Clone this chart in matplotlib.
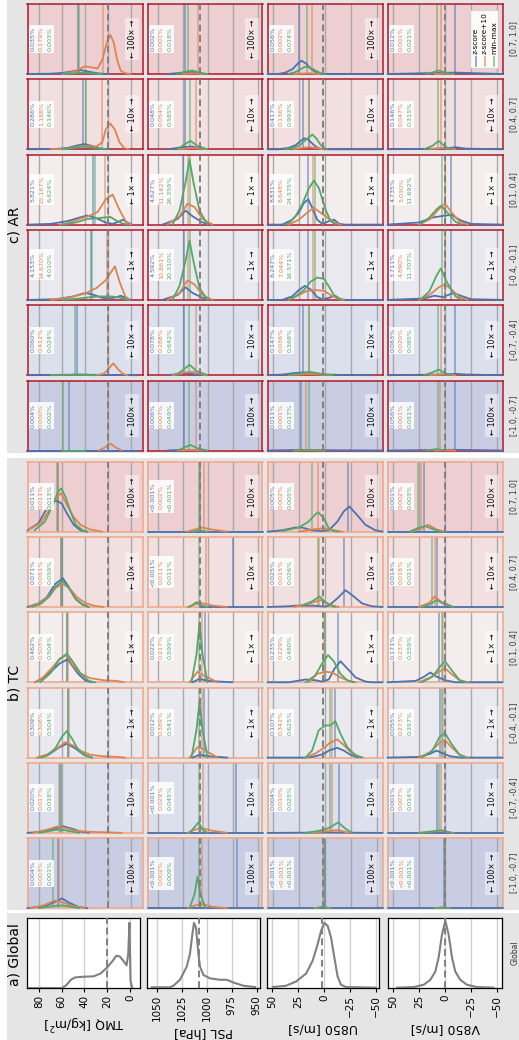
import matplotlib.pyplot as plt
from matplotlib.patches import Rectangle
from matplotlib.transforms import Bbox

W, H = 519, 1040
BLUE, ORANGE, GREEN = '#4c72b0', '#dd8452', '#55a868'
GREY_BG = '#e5e5e5'

BINS = ['[-1.0, -0.7]', '[-0.7, -0.4]', '[-0.4, -0.1]', '[0.1, 0.4]', '[0.4, 0.7]', '[0.7, 1.0]']
SCALES = ['100×', '10×', '1×', '1×', '10×', '100×']
BIN_COLORS = ['#c8cde3', '#dcdfec', '#e9e9ef', '#f4eded', '#f2dfe0', '#edcfd1']

VARS = ['TMQ', 'PSL', 'U850', 'V850']
XLABELS = ['TMQ [kg/m$^2$]', 'PSL [hPa]', 'U850 [m/s]', 'V850 [m/s]']
TICKS = [[80, 60, 40, 20, 0], [1050, 1025, 1000, 975, 950], [50, 25, 0, -25, -50], [50, 25, 0, -25, -50]]
XLIM = [(90, -10), (1060, 945), (55, -55), (55, -55)]
REF = [20, 1008, 1.8, 0]

# global distributions, (value, height) points
GLOBAL_TMQ = [(89, 0), (60, 0), (56, 0.04), (52, 0.12), (48, 0.155), (40, 0.165), (32, 0.17), (26, 0.21),
              (20, 0.30), (15, 0.40), (12, 0.47), (9, 0.46), (6, 0.40), (3, 0.33), (1.5, 0.5), (0.5, 0.95),
              (-0.5, 0.1), (-2, 0)]
GLOBAL_PSL = [(1055, 0.01), (1036.7, 0.01), (1033.3, 0.033), (1026.7, 0.12), (1020, 0.31), (1016.7, 0.5),
              (1014.3, 0.79), (1012.7, 0.95), (1010.7, 0.88), (1008.3, 0.5), (1006.7, 0.31), (1003.3, 0.19),
              (996.7, 0.14), (986.7, 0.12), (980, 0.12), (973.3, 0.08), (963.3, 0.033), (951.7, 0.014)]
GLOBAL_U850 = [(49.7, 0.014), (36.9, 0.033), (27.2, 0.095), (17.6, 0.21), (11.2, 0.4), (6.4, 0.64), (3.2, 0.83),
               (0, 0.95), (-3.2, 0.905), (-6.4, 0.74), (-9.6, 0.45), (-12.8, 0.167), (-16, 0.048),
               (-20.8, 0.014), (-49.7, 0.005)]
GLOBAL_V850 = [(46.5, 0.005), (30.4, 0.014), (20.8, 0.048), (14.4, 0.12), (9.6, 0.24), (6.4, 0.45), (3.2, 0.78),
               (0, 0.98), (-3.2, 0.78), (-6.4, 0.45), (-9.6, 0.24), (-14.4, 0.12), (-20.8, 0.048),
               (-30.4, 0.014), (-46.5, 0.005)]

# ---- TC, one curve per bin ([-1.0,-0.7] ... [0.7,1.0]) ----
TC_TMQ_Z = [
    [(90, 0), (75, 0.03), (66, 0.09), (60, 0.14), (54, 0.08), (46, 0.02), (38, 0)],
    [(90, 0), (76, 0.02), (67, 0.06), (59.2, 0.095), (51.3, 0.06), (44, 0.02), (36.7, 0)],
    [(80.6, 0), (71.8, 0.04), (63, 0.14), (55.7, 0.2), (48.4, 0.13), (41, 0.04), (33.7, 0)],
    [(83.5, 0), (76.6, 0.06), (67.8, 0.18), (61.9, 0.27), (54.9, 0.33), (51.7, 0.25), (45.9, 0.12), (40, 0.03), (34.2, 0)],
    [(90, 0), (80.6, 0.05), (73.2, 0.14), (65.9, 0.33), (59.2, 0.41), (54.2, 0.29), (48.4, 0.12), (42.5, 0.04), (36.7, 0)],
    [(90, 0.02), (80.6, 0.12), (73.2, 0.33), (68.8, 0.43), (64.5, 0.44), (60.1, 0.40), (55.7, 0.26), (49.9, 0.1), (44, 0.02), (38, 0)],
]
TC_TMQ_Z10 = [
    [(88, 0), (76, 0.04), (66, 0.11), (59, 0.08), (50, 0.03), (40, 0)],
    [(85, 0), (72, 0.05), (64.5, 0.09), (57, 0.07), (48, 0.03), (35, 0.015), (15, 0.005), (8, 0)],
    [(82, 0), (72, 0.05), (63, 0.15), (57, 0.22), (50, 0.17), (43, 0.09), (35, 0.04), (25, 0.02), (12, 0.01), (5, 0)],
    [(83.5, 0), (76.6, 0.07), (67.8, 0.22), (61.9, 0.34), (55.7, 0.39), (51.7, 0.27), (44.4, 0.13), (35.6, 0.06), (24, 0.03), (12.3, 0.02), (6.4, 0)],
    [(88, 0), (80, 0.05), (72, 0.15), (65, 0.28), (59.2, 0.33), (53, 0.26), (47, 0.14), (40, 0.06), (33, 0.02), (24, 0)],
    [(89, 0.03), (86.4, 0.05), (77.6, 0.14), (70.3, 0.33), (64.5, 0.5), (60.7, 0.55), (55.7, 0.38), (49.9, 0.21), (44, 0.1), (35.3, 0.03), (25, 0)],
]
TC_TMQ_MM = [
    [(80, 0), (68, 0.03), (60, 0.04), (52, 0.02), (45, 0)],
    [(80, 0), (70, 0.03), (62, 0.05), (55, 0.03), (45, 0)],
    [(78, 0), (74, 0.02), (65.9, 0.13), (60, 0.3), (55.7, 0.38), (51.3, 0.27), (45.5, 0.1), (38, 0.02), (33.7, 0)],
    [(79, 0), (70, 0.13), (62.6, 0.32), (55.7, 0.41), (49.9, 0.28), (44, 0.13), (36.7, 0.02), (30.9, 0)],
    [(86, 0), (78, 0.05), (71, 0.15), (65, 0.30), (59.2, 0.37), (54, 0.27), (48, 0.11), (42, 0.03), (37, 0)],
    [(84, 0.02), (75, 0.14), (68, 0.38), (63.5, 0.57), (60.7, 0.62), (57, 0.5), (52.6, 0.29), (48, 0.1), (42, 0.02), (38, 0)],
]
TC_PSL_Z = [
    [(1060, 0), (945, 0)],
    [(1060, 0), (945, 0)],
    [(1015, 0), (1008, 0.04), (1000, 0.02), (980, 0)],
    [(1015, 0), (1008, 0.05), (1000, 0.02), (975, 0)],
    [(1008, 0), (945, 0)],
    [(1060, 0), (945, 0)],
]
TC_PSL_Z10 = [
    [(1020, 0), (1012, 0.04), (1006, 0.06), (995, 0.02), (980, 0)],
    [(1020, 0), (1012, 0.05), (1006, 0.07), (995, 0.03), (980, 0)],
    [(1018, 0), (1010, 0.15), (1004, 0.12), (990, 0)],
    [(1018, 0), (1010, 0.15), (1004, 0.1), (990, 0)],
    [(1020, 0), (1012, 0.04), (1006, 0.057), (995, 0.02), (980, 0)],
    [(1021, 0), (1013, 0.03), (1006, 0.06), (995, 0.03), (980, 0)],
]
TC_PSL_MM = [
    [(1018, 0), (1013, 0.2), (1010, 0.45), (1007, 0.2), (1002, 0)],
    [(1018, 0), (1012, 0.1), (1009, 0.15), (1005, 0.05), (1000, 0)],
    [(1016, 0), (1011, 0.4), (1008, 0.8), (1005, 0.4), (1000, 0)],
    [(1016, 0), (1011, 0.4), (1008, 0.85), (1005, 0.4), (1000, 0)],
    [(1018, 0), (1011, 0.07), (1005, 0.02), (1000, 0)],
    [(1015, 0), (1008, 0.02), (1000, 0)],
]
TC_U850_Z = [
    [(55, 0), (-55, 0)],
    [(55, 0), (0, 0.005), (-55, 0)],
    [(55, 0), (20, 0), (12.4, 0.01), (1.3, 0.05), (-3.6, 0.1), (-11.6, 0.14), (-18, 0.1), (-24.4, 0.04), (-32, 0)],
    [(55, 0), (34.7, 0), (18.7, 0.04), (9.2, 0.03), (2.8, 0.01), (-3.6, 0.04), (-9.3, 0.2), (-14.8, 0.3), (-21.2, 0.2), (-29.2, 0.07), (-38.8, 0.01), (-45.1, 0), (-55, 0)],
    [(55, 0), (35, 0.01), (28, 0.02), (12, 0.02), (0, 0.005), (-3.6, 0.02), (-11.6, 0.12), (-19.6, 0.24), (-27.6, 0.15), (-35.5, 0.05), (-45, 0.01), (-55, 0)],
    [(55, 0), (41.1, 0.02), (28.3, 0.06), (22, 0.06), (12.4, 0.02), (2.8, 0.01), (-3.6, 0.02), (-11.6, 0.14), (-18, 0.29), (-23.3, 0.36), (-30.6, 0.24), (-38.6, 0.1), (-48.2, 0.02), (-55, 0)],
]
TC_U850_Z10 = [
    [(10, 0), (2, 0.02), (-5, 0)],
    [(12.4, 0), (-3.6, 0.03), (-12.7, 0.04), (-22.8, 0)],
    [(18.7, 0), (9.2, 0.06), (-0.4, 0.15), (-3.6, 0.2), (-11.6, 0.26), (-18, 0.18), (-24.4, 0.08), (-32, 0.02), (-36, 0)],
    [(15.6, 0), (7.6, 0.12), (-0.4, 0.15), (-6.8, 0.14), (-14.8, 0.07), (-22.8, 0.02), (-29.2, 0)],
    [(30, 0), (12.4, 0.06), (4.4, 0.1), (-3.6, 0.04), (-13, 0)],
    [(25, 0), (13, 0.03), (2, 0.05), (-8, 0.02), (-17, 0)],
]
TC_U850_MM = [
    [(8, 0), (2, 0.02), (-4, 0)],
    [(18.7, 0), (6, 0.03), (-3.6, 0.07), (-12.7, 0.15), (-19.6, 0.06), (-26, 0)],
    [(18.7, 0), (12.4, 0.1), (6, 0.39), (-0.4, 0.46), (-5.2, 0.46), (-9.9, 0.52), (-14.8, 0.34), (-21.2, 0.15), (-29.2, 0.03), (-35.5, 0)],
    [(18.7, 0), (9.2, 0.1), (2.8, 0.27), (-2.9, 0.39), (-8.4, 0.3), (-14.8, 0.12), (-21.2, 0.03), (-27.6, 0)],
    [(22, 0.02), (12.4, 0.08), (5.1, 0.15), (-0.4, 0.07), (-6.8, 0.01), (-10, 0)],
    [(41, 0.01), (25, 0.06), (16, 0.14), (9.7, 0.24), (6.7, 0.28), (1, 0.19), (-3.6, 0.05), (-8.4, 0.01), (-13, 0)],
]
TC_V850_Z = [
    [(55, 0), (-55, 0)],
    [(55, 0), (-55, 0)],
    [(55, 0), (25, 0.01), (15, 0.05), (8, 0.1), (2, 0.06), (-5, 0.02), (-15, 0), (-55, 0)],
    [(55, 0), (28, 0.02), (20, 0.08), (14, 0.14), (8, 0.08), (0, 0.03), (-10, 0), (-55, 0)],
    [(55, 0), (-55, 0)],
    [(55, 0), (-55, 0)],
]
TC_V850_Z10 = [
    [(10, 0), (3, 0.01), (-5, 0)],
    [(25, 0), (12, 0.02), (3, 0.03), (-8, 0)],
    [(25, 0), (14, 0.08), (6, 0.2), (0, 0.25), (-6, 0.15), (-14, 0.04), (-22, 0)],
    [(25, 0), (14, 0.07), (6, 0.15), (0, 0.2), (-6, 0.12), (-14, 0.03), (-22, 0)],
    [(25, 0), (15, 0.06), (10, 0.15), (4, 0.08), (-8, 0)],
    [(32, 0), (24, 0.04), (16, 0.1), (8, 0.03), (0, 0)],
]
TC_V850_MM = [
    [(10, 0), (3, 0.01), (-5, 0)],
    [(25, 0), (12, 0.02), (4, 0.04), (-6, 0)],
    [(22, 0), (12, 0.1), (5, 0.3), (0, 0.35), (-6, 0.2), (-14, 0.04), (-20, 0)],
    [(22, 0), (12, 0.08), (5, 0.22), (0, 0.3), (-6, 0.18), (-14, 0.03), (-20, 0)],
    [(22, 0), (14, 0.04), (8, 0.1), (2, 0.05), (-8, 0)],
    [(34, 0), (26, 0.05), (19, 0.08), (12, 0.04), (4, 0)],
]

# ---- AR ----
AR_TMQ_Z = [
    [(89, 0), (-5, 0)],
    [(89, 0), (60, 0.005), (45, 0.01), (30, 0.005), (-5, 0)],
    [(89, 0), (65, 0.01), (50, 0.05), (42, 0.09), (38, 0.095), (32, 0.07), (25, 0.03), (18, 0.02), (12, 0.04), (9, 0.06), (5, 0.03), (0, 0)],
    [(89, 0), (70, 0.01), (55, 0.05), (45, 0.1), (38, 0.13), (30, 0.09), (22, 0.03), (16, 0.01), (11, 0.04), (7, 0.07), (3, 0.03), (-1, 0)],
    [(89, 0), (65, 0.005), (55, 0.02), (48, 0.05), (41, 0.075), (34, 0.05), (28, 0.015), (20, 0)],
    [(89, 0), (70, 0.005), (60, 0.015), (52, 0.035), (44, 0.057), (36, 0.03), (28, 0.008), (20, 0)],
]
AR_TMQ_Z10 = [
    [(28, 0), (23, 0.04), (18, 0.1), (13, 0.04), (8, 0)],
    [(30, 0), (24, 0.02), (20, 0.08), (15.4, 0.17), (11, 0.08), (7, 0.02), (3, 0)],
    [(70, 0), (55, 0.03), (40, 0.09), (30, 0.17), (22, 0.28), (18, 0.38), (14, 0.48), (10, 0.26), (5, 0.05), (1, 0)],
    [(62, 0), (55, 0.02), (45, 0.08), (37, 0.12), (29, 0.18), (22, 0.36), (16, 0.43), (10, 0.21), (4, 0.03), (0, 0)],
    [(70, 0), (55, 0.01), (45, 0.04), (38, 0.05), (30, 0.04), (25, 0.1), (22, 0.28), (18, 0.37), (14, 0.28), (10, 0.1), (6, 0.02), (2, 0)],
    [(60, 0), (50, 0.03), (40, 0.11), (33, 0.09), (29, 0.08), (25, 0.2), (21, 0.45), (18, 0.56), (15, 0.45), (12, 0.2), (9, 0.05), (5, 0.01), (0, 0)],
]
AR_TMQ_MM = [
    [(60, 0), (40, 0)],
    [(70, 0), (50, 0.005), (30, 0)],
    [(60, 0), (45, 0.02), (35, 0.04), (25, 0.05), (18, 0.05), (12, 0.04), (7, 0.02), (2, 0)],
    [(60, 0), (48, 0.03), (38, 0.08), (30, 0.09), (24, 0.1), (18, 0.11), (13, 0.06), (8, 0.02), (3, 0)],
    [(60, 0), (50, 0.02), (42, 0.04), (35, 0.03), (28, 0.01), (22, 0)],
    [(60, 0), (50, 0.01), (44, 0.02), (38, 0.015), (30, 0.005), (25, 0)],
]
AR_PSL_Z = [
    [(1040, 0), (1025, 0.01), (1010, 0)],
    [(1040, 0), (1028, 0.02), (1020, 0.03), (1008, 0)],
    [(1045, 0), (1030, 0.07), (1022, 0.18), (1015, 0.1), (1005, 0.03), (995, 0)],
    [(1045, 0), (1030, 0.08), (1022, 0.2), (1015, 0.12), (1005, 0.03), (995, 0)],
    [(1040, 0), (1025, 0.03), (1015, 0.04), (1005, 0)],
    [(1040, 0), (1025, 0.02), (1015, 0.03), (1005, 0)],
]
AR_PSL_Z10 = [
    [(1030, 0), (1018, 0.01), (1005, 0)],
    [(1035, 0), (1022, 0.04), (1015, 0.05), (1002, 0)],
    [(1040, 0), (1028, 0.1), (1020, 0.28), (1013, 0.22), (1005, 0.07), (995, 0)],
    [(1040, 0), (1028, 0.12), (1020, 0.3), (1013, 0.25), (1005, 0.08), (995, 0)],
    [(1030, 0), (1015, 0.02), (1000, 0)],
    [(1025, 0), (1015, 0.01), (1005, 0)],
]
AR_PSL_MM = [
    [(1030, 0), (1022, 0.05), (1017, 0.08), (1010, 0.03), (1000, 0)],
    [(1032, 0), (1024, 0.08), (1018, 0.15), (1011, 0.06), (1000, 0)],
    [(1035, 0), (1028, 0.2), (1022, 0.55), (1018, 0.85), (1014, 0.55), (1008, 0.17), (1000, 0)],
    [(1035, 0), (1028, 0.2), (1022, 0.6), (1018, 0.93), (1014, 0.6), (1008, 0.2), (1000, 0)],
    [(1030, 0), (1022, 0.08), (1017, 0.12), (1010, 0.05), (1000, 0)],
    [(1030, 0), (1020, 0.04), (1015, 0.05), (1008, 0.02), (1000, 0)],
]
AR_U850_Z = [
    [(55, 0), (35, 0.005), (22, 0.01), (10, 0.005), (-55, 0)],
    [(55, 0), (40, 0.01), (30, 0.03), (21, 0.04), (12, 0.03), (0, 0.01), (-20, 0.003), (-45, 0)],
    [(55, 0), (40.9, 0), (31.5, 0.05), (25, 0.14), (19.3, 0.2), (13.8, 0.15), (7.4, 0.04), (2.6, 0.01), (-3.8, 0.03), (-9.5, 0.06), (-15, 0.01), (-19.8, 0), (-55, 0)],
    [(55, 0), (40.9, 0), (31.5, 0.07), (25, 0.17), (20.2, 0.31), (16, 0.36), (12.2, 0.24), (7.4, 0.07), (2.6, 0.01), (-3.8, 0.05), (-8.6, 0.07), (-13.4, 0.015), (-18.2, 0), (-55, 0)],
    [(55, 0), (45, 0), (35, 0.02), (28, 0.06), (24, 0.11), (20, 0.157), (16, 0.14), (12, 0.08), (8, 0.03), (4, 0.005), (0, 0), (-55, 0)],
    [(55, 0), (45, 0), (38, 0.02), (31, 0.07), (26, 0.15), (22.5, 0.19), (18, 0.15), (14, 0.08), (9, 0.03), (4, 0.005), (0, 0), (-55, 0)],
]
AR_U850_Z10 = [
    [(30, 0), (16, 0.005), (0, 0)],
    [(35, 0), (25, 0.01), (15, 0.02), (5, 0.01), (-5, 0)],
    [(34.6, 0), (25, 0.07), (17, 0.13), (9, 0.14), (1, 0.13), (-5.4, 0.07), (-11.8, 0.02), (-18, 0)],
    [(34.6, 0), (25, 0.07), (17, 0.17), (10.6, 0.24), (4.2, 0.17), (-2.2, 0.1), (-8.6, 0.03), (-15, 0)],
    [(30, 0), (22, 0.02), (15, 0.03), (8, 0.02), (2, 0)],
    [(30, 0), (15, 0.01), (5, 0)],
]
AR_U850_MM = [
    [(30, 0), (15, 0.01), (0, 0)],
    [(35, 0), (25, 0.02), (15, 0.05), (8, 0.03), (0, 0.01), (-8, 0)],
    [(35, 0), (28.2, 0.05), (20.2, 0.14), (13.8, 0.26), (7.4, 0.32), (1, 0.3), (-3.8, 0.19), (-8.6, 0.07), (-15, 0)],
    [(38, 0), (34.6, 0.02), (28.2, 0.12), (21.8, 0.29), (15.4, 0.52), (10.6, 0.63), (5.8, 0.52), (-0.6, 0.21), (-5.4, 0.05), (-10.2, 0)],
    [(38, 0), (30, 0.02), (24, 0.06), (18, 0.14), (12, 0.21), (8, 0.15), (4, 0.06), (0, 0.01), (-3, 0)],
    [(35, 0), (28, 0.03), (22, 0.08), (18.6, 0.105), (14, 0.09), (9, 0.05), (4, 0.01), (0, 0)],
]
AR_V850_Z = [
    [(55, 0), (-10, 0.01), (-55, 0)],
    [(55, 0), (0, 0.01), (-10, 0.02), (-20, 0.01), (-55, 0)],
    [(55, 0), (20, 0.02), (10, 0.06), (2, 0.04), (-8, 0.1), (-15, 0.06), (-25, 0.01), (-55, 0)],
    [(55, 0), (25, 0.03), (12, 0.1), (4, 0.12), (-6, 0.14), (-15, 0.06), (-25, 0.01), (-55, 0)],
    [(55, 0), (0, 0.01), (-10, 0.03), (-20, 0.01), (-55, 0)],
    [(55, 0), (-10, 0.02), (-55, 0)],
]
AR_V850_Z10 = [
    [(10, 0), (0, 0.005), (-10, 0)],
    [(15, 0), (3, 0.01), (-10, 0)],
    [(25, 0), (14, 0.08), (6, 0.18), (0, 0.22), (-6, 0.15), (-14, 0.04), (-22, 0)],
    [(25, 0), (14, 0.08), (6, 0.22), (0, 0.3), (-6, 0.18), (-14, 0.04), (-22, 0)],
    [(15, 0), (3, 0.02), (-10, 0)],
    [(10, 0), (2, 0.005), (-8, 0)],
]
AR_V850_MM = [
    [(18, 0), (8, 0.02), (0, 0)],
    [(20, 0), (12, 0.04), (6, 0.08), (0, 0.03), (-6, 0)],
    [(24, 0), (15, 0.12), (8, 0.35), (4, 0.45), (-2, 0.25), (-10, 0.05), (-16, 0)],
    [(24, 0), (15, 0.1), (8, 0.22), (4, 0.27), (-2, 0.18), (-10, 0.04), (-16, 0)],
    [(20, 0), (12, 0.05), (6, 0.12), (0, 0.04), (-6, 0)],
    [(18, 0), (10, 0.03), (6, 0.05), (0, 0.02), (-6, 0)],
]

# coloured reference lines (blue, orange, green) per bin
TC_VLINES = {
    'TMQ': [(63.5, 63, 67.5), (61.3, 62.3, 61.9), (55, 54, 54.5), (56, 55, 55.5), (60.4, 60.7, 60.7), (63.9, 63.6, 64.5)],
    'PSL': [(971, 1006, 1009), (972, 1005, 1009), (1004, 1006, 1008.5), (1003, 1006, 1008.5), (975, 1001.5, 1008.5), (1008, 1004, 1008.5)],
    'U850': [(0.3, 1.5, 1.2), (-13, -6.7, -5.1), (-9.9, -6.7, -5.1), (-12.5, 0.5, -0.3), (-17.9, 5.5, 6.8), (-22, 6.3, 12)],
    'V850': [(0.5, 0.3, 0), (8, 4, 6), (5, 2, 3), (6, 2, 3), (8, 10, 12), (20, 23, 26)],
}
AR_VLINES = {
    'TMQ': [(54.3, 20, 58.7), (47, 20, 48.5), (35.2, 20.5, 33.7), (32.9, 22.9, 31.4), (41.7, 25, 38.9), (46, 24.5, 45)],
    'PSL': [(1024, 1012, 1019), (1024, 1012, 1019), (1024, 1020, 1018), (1024.5, 1020, 1017.5), (1023, 1012, 1018), (1023, 1010, 1020)],
    'U850': [(22.6, 17.7, 15.6), (21, 15.4, 15.6), (16, 11.3, 10), (16, 11.3, 10), (21.2, 15.3, 15.1), (24.4, 12.2, 17)],
    'V850': [(-9.6, 5, 7), (-9.6, 4, 6.7), (-6, 0, 3), (-6, 0, 3), (-9.6, 4, 6.7), (-9.6, 4, 7.6)],
}

TC_PCT = {
    'TMQ': [('0.004%', '0.003%', '0.001%'), ('0.020%', '0.017%', '0.018%'), ('0.309%', '0.308%', '0.504%'),
            ('0.462%', '0.503%', '0.504%'), ('0.071%', '0.061%', '0.059%'), ('0.011%', '0.011%', '0.013%')],
    'PSL': [('<0.001%', '0.002%', '0.009%'), ('<0.001%', '0.029%', '0.045%'), ('0.012%', '0.389%', '0.541%'),
            ('0.022%', '0.217%', '0.599%'), ('<0.001%', '0.011%', '0.011%'), ('<0.001%', '0.002%', '<0.001%')],
    'U850': [('<0.001%', '<0.001%', '<0.001%'), ('0.004%', '0.010%', '0.025%'), ('0.107%', '0.342%', '0.625%'),
             ('0.235%', '0.229%', '0.480%'), ('0.025%', '0.015%', '0.026%'), ('0.005%', '0.002%', '0.005%')],
    'V850': [('<0.001%', '<0.001%', '<0.001%'), ('0.001%', '0.007%', '0.014%'), ('0.055%', '0.273%', '0.357%'),
             ('0.171%', '0.237%', '0.359%'), ('0.014%', '0.016%', '0.021%'), ('0.001%', '0.002%', '0.003%')],
}
AR_PCT = {
    'TMQ': [('0.004%', '0.030%', '0.002%'), ('0.060%', '0.412%', '0.024%'), ('4.153%', '14.870%', '4.010%'),
            ('5.821%', '15.167%', '6.624%'), ('0.286%', '1.188%', '0.146%'), ('0.035%', '0.179%', '0.003%')],
    'PSL': [('0.006%', '0.007%', '0.049%'), ('0.078%', '0.288%', '0.642%'), ('4.592%', '10.861%', '20.310%'),
            ('4.627%', '11.162%', '26.359%'), ('0.048%', '0.054%', '0.585%'), ('0.002%', '0.001%', '0.018%')],
    'U850': [('0.011%', '0.001%', '0.017%'), ('0.147%', '0.036%', '0.368%'), ('6.247%', '7.044%', '16.571%'),
             ('8.831%', '8.648%', '24.575%'), ('0.417%', '0.136%', '0.993%'), ('0.056%', '0.002%', '0.074%')],
    'V850': [('0.056%', '0.001%', '0.051%'), ('0.063%', '0.020%', '0.085%'), ('3.711%', '4.890%', '11.707%'),
             ('4.735%', '5.030%', '11.692%'), ('0.146%', '0.047%', '0.315%'), ('0.012%', '0.001%', '0.021%')],
}

TC_CURVES = {'TMQ': (TC_TMQ_Z, TC_TMQ_Z10, TC_TMQ_MM), 'PSL': (TC_PSL_Z, TC_PSL_Z10, TC_PSL_MM),
             'U850': (TC_U850_Z, TC_U850_Z10, TC_U850_MM), 'V850': (TC_V850_Z, TC_V850_Z10, TC_V850_MM)}
AR_CURVES = {'TMQ': (AR_TMQ_Z, AR_TMQ_Z10, AR_TMQ_MM), 'PSL': (AR_PSL_Z, AR_PSL_Z10, AR_PSL_MM),
             'U850': (AR_U850_Z, AR_U850_Z10, AR_U850_MM), 'V850': (AR_V850_Z, AR_V850_Z10, AR_V850_MM)}
GLOBAL = [GLOBAL_TMQ, GLOBAL_PSL, GLOBAL_U850, GLOBAL_V850]

# ---------------- layout (pixels of the final image) ----------------
fig = plt.figure(figsize=(W / 100, H / 100), dpi=100)

COL_X = [27.5, 147.5, 267.5, 387.5]
COL_W = 115
PANEL_H = 70
PITCH = 75.3
PCT_X = [5.8 / COL_W, 14.1 / COL_W, 22.4 / COL_W]


def add_px_axes(x0, y0, w, h):
    return fig.add_axes([x0 / W, 1 - (y0 + h) / H, w / W, h / H])


def fig_rect(x0, y0, x1, y1, color):
    fig.add_artist(Rectangle((x0 / W, 1 - y1 / H), (x1 - x0) / W, (y1 - y0) / H,
                             transform=fig.transFigure, fc=color, ec='none', zorder=0))


# grey section backgrounds
fig_rect(7, 0, W, 453, GREY_BG)
fig_rect(7, 458, W, 910, GREY_BG)
fig_rect(7, 913, W, H, GREY_BG)

fig.text(15 / W, 1 - 225 / H, 'c) AR', rotation=90, fontsize=10, ha='center', va='center')
fig.text(15 / W, 1 - 683 / H, 'b) TC', rotation=90, fontsize=10, ha='center', va='center')
fig.text(15 / W, 1 - 955 / H, 'a) Global', rotation=90, fontsize=10, ha='center', va='center')

pct_texts = []


def small_panel(ax, v, b, curves, vlines, pct, edge, scale_label=True):
    ax.set_facecolor(BIN_COLORS[b])
    ax.set_xlim(*XLIM[v])
    ax.set_ylim(0, 1)
    ax.set_xticks([])
    ax.set_yticks([])
    for s in ax.spines.values():
        s.set_color(edge)
        s.set_linewidth(1.1)
    for t in TICKS[v]:
        ax.axvline(t, color='#a8a8a8', lw=1.0, zorder=1)
    ax.axvline(REF[v], color='#808080', lw=1.4, ls=(0, (3.5, 2)), zorder=4)
    for x, c in zip(vlines, [BLUE, ORANGE, GREEN]):
        ax.axvline(x, color=c, lw=1.3, alpha=0.55, zorder=2)
    for pts, c in zip(curves, [BLUE, ORANGE, GREEN]):
        ax.plot([p[0] for p in pts], [p[1] for p in pts], color=c, lw=1.3, zorder=3, clip_on=False,
                solid_capstyle='round')
    ts = [ax.text(PCT_X[i], 0.5, s, color=c, rotation=90, ha='center', va='center', fontsize=4.6,
                  transform=ax.transAxes, zorder=7)
          for i, (s, c) in enumerate(zip(pct, [BLUE, ORANGE, GREEN]))]
    pct_texts.append((ax, ts))
    if scale_label:
        ax.text(0.91, 0.5, '← ' + SCALES[b] + ' →', rotation=90, ha='center', va='center', fontsize=5.5,
                transform=ax.transAxes, zorder=6,
                bbox=dict(boxstyle='square,pad=0.3', fc='white', ec='none', alpha=0.45))


for top0, curves_d, vlines_d, pct_d, edge in [(4, AR_CURVES, AR_VLINES, AR_PCT, '#b2182b'),
                                              (461.7, TC_CURVES, TC_VLINES, TC_PCT, '#f4a582')]:
    for v, var in enumerate(VARS):
        for b in range(6):
            y0 = top0 + (5 - b) * PITCH
            ax = add_px_axes(COL_X[v], y0, COL_W, PANEL_H)
            curves = [curves_d[var][k][b] for k in range(3)]
            has_legend = top0 == 4 and var == 'V850' and b == 5
            small_panel(ax, v, b, curves, vlines_d[var][b], pct_d[var][b], edge, scale_label=not has_legend)
            if has_legend:
                legend_ax = ax

# manual legend (rotated) in the AR / V850 / [0.7, 1.0] panel
legend_ax.add_patch(Rectangle((0.715, 0.085), 0.245, 0.83, transform=legend_ax.transAxes,
                              fc='white', ec='#cccccc', lw=0.6, alpha=0.9, zorder=7))
for i, (lab, c) in enumerate(zip(['z-score', 'z-score+10', 'min-max'], [BLUE, ORANGE, GREEN])):
    xa = 0.77 + i * 0.078
    legend_ax.plot([xa, xa], [0.12, 0.25], color=c, lw=1.2, alpha=0.7, transform=legend_ax.transAxes,
                   zorder=8)
    legend_ax.text(xa, 0.29, lab, rotation=90, ha='center', va='bottom', fontsize=5.3,
                   transform=legend_ax.transAxes, zorder=8)

# global panels
GCOL = [(27, 113), (146.7, 113.3), (267.3, 112), (388.3, 114)]
GXLIM = [(90.5, -8.8), (1060, 946.7), (55, -53), (55, -55)]
for v in range(4):
    ax = add_px_axes(GCOL[v][0], 918, GCOL[v][1], 70)
    ax.set_facecolor('white')
    ax.set_xlim(*GXLIM[v])
    ax.set_ylim(0, 1.02)
    for t in TICKS[v]:
        ax.axvline(t, color='#d0d0d0', lw=1.0, zorder=1)
    ax.axvline(REF[v], color='#808080', lw=1.4, ls=(0, (3.5, 2)), zorder=4)
    ax.plot([p[0] for p in GLOBAL[v]], [p[1] for p in GLOBAL[v]], color='#808080', lw=1.5, zorder=3)
    ax.set_xticks(TICKS[v])
    ax.set_xticklabels([str(t).replace('-', '\u2212') for t in TICKS[v]], rotation=90, fontsize=7.5)
    ax.tick_params(axis='x', length=3, width=0.8, pad=2)
    ax.set_yticks([])
    for s in ax.spines.values():
        s.set_color('black')
        s.set_linewidth(0.9)
    ax.set_xlabel(XLABELS[v], rotation=180, fontsize=9, labelpad=3)

# bin labels on the right edge
for top0 in (4, 461.7):
    for b in range(6):
        yc = top0 + (5 - b) * PITCH + PANEL_H / 2
        fig.text(515 / W, 1 - yc / H, BINS[b], rotation=90, ha='center', va='center', fontsize=5.5,
                 color='#333333')
fig.text(515 / W, 1 - 953 / H, 'Global', rotation=90, ha='center', va='center', fontsize=5.5, color='#333333')

# white boxes behind the percentage texts, sized from the drawn texts
fig.canvas.draw()
renderer = fig.canvas.get_renderer()
for ax, ts in pct_texts:
    bb = Bbox.union([t.get_window_extent(renderer) for t in ts])
    bb = Bbox.from_extents(bb.x0 - 1.5, bb.y0 - 1.5, bb.x1 + 1.5, bb.y1 + 1.5)
    bb = bb.transformed(ax.transAxes.inverted())
    ax.add_patch(Rectangle((bb.x0, bb.y0), bb.width, bb.height, transform=ax.transAxes,
                           fc='white', ec='none', alpha=0.85, zorder=6))

fig.savefig('out.png', dpi=100)
